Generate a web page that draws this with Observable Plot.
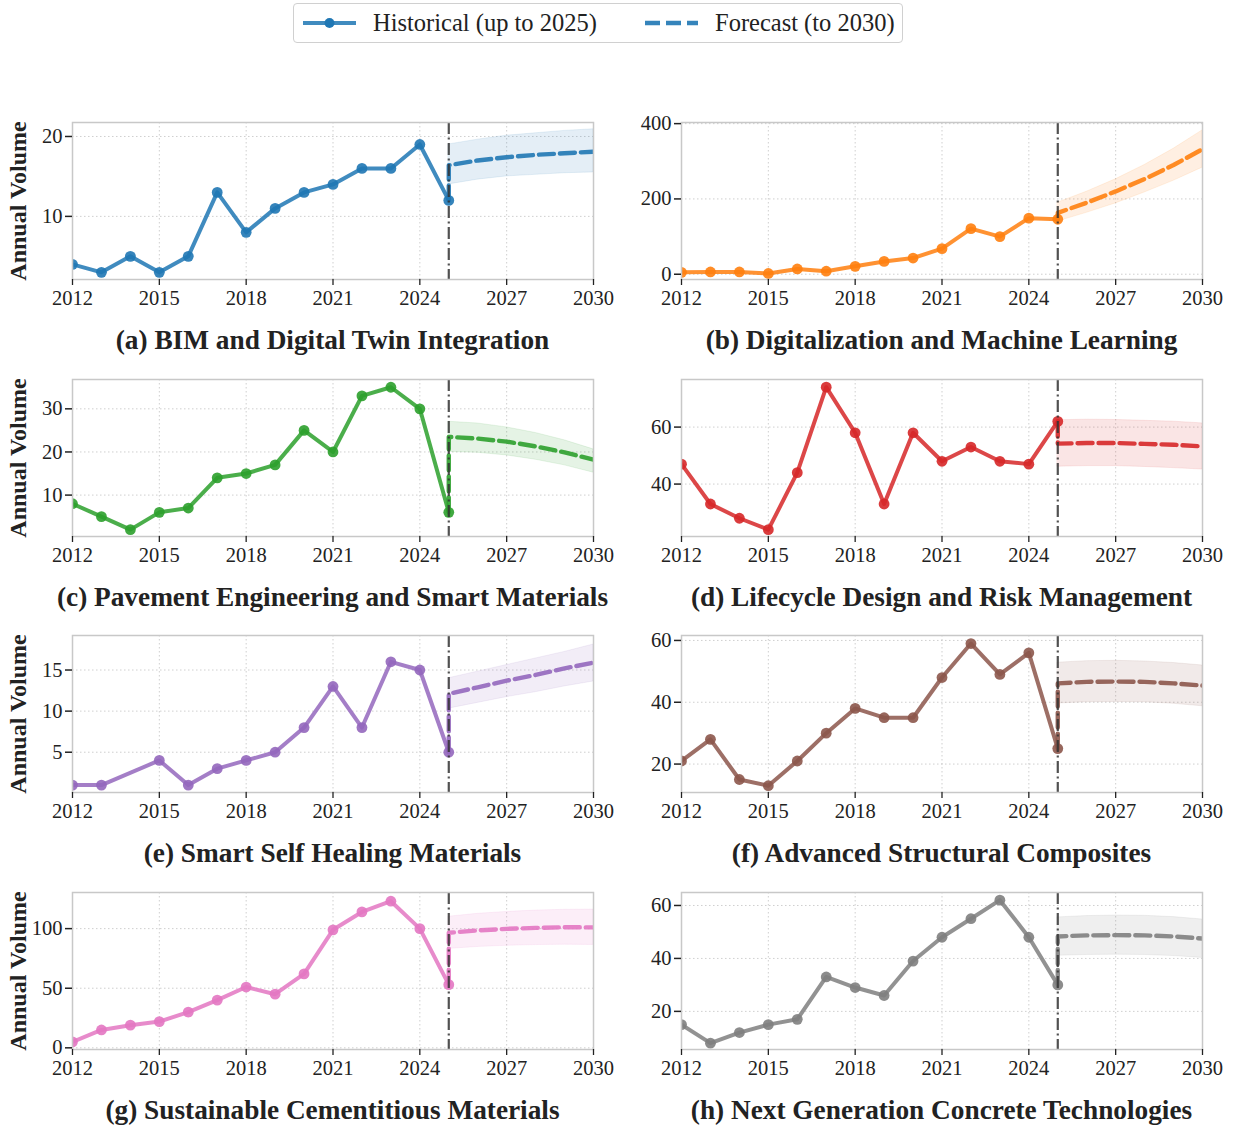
<!DOCTYPE html>
<html><head><meta charset="utf-8">
<script src="https://cdn.jsdelivr.net/npm/d3@7"></script>
<script src="https://cdn.jsdelivr.net/npm/@observablehq/plot@0.6"></script>
<style>
body{margin:0;background:#fff;font-family:"Liberation Serif","Times New Roman",serif;}
#root{position:relative;width:1233px;height:1131px;overflow:hidden;}
.panel{position:absolute;}
.title{position:absolute;text-align:center;font-weight:bold;font-size:27.3px;line-height:30px;color:#222;white-space:nowrap;}
.legend{position:absolute;left:293px;top:3px;width:608px;height:38px;border:1.5px solid #d0d0d0;border-radius:4px;box-sizing:content-box;}
.legend .item{position:absolute;top:0;height:38px;display:flex;align-items:center;font-size:24.5px;color:#222;}
.legend svg{margin-right:17px;}
</style>
</head><body>
<div id="root"></div>
<script>
// ---- data ----
const histYears = [2012,2013,2014,2015,2016,2017,2018,2019,2020,2021,2022,2023,2024,2025];
const forecastYears = [2025,2026,2027,2028,2029,2030];
const forecastStart = 2025;
const xTicks = [2012,2015,2018,2021,2024,2027,2030];

const titles = [
  "(a) BIM and Digital Twin Integration",
  "(b) Digitalization and Machine Learning",
  "(c) Pavement Engineering and Smart Materials",
  "(d) Lifecycle Design and Risk Management",
  "(e) Smart Self Healing Materials",
  "(f) Advanced Structural Composites",
  "(g) Sustainable Cementitious Materials",
  "(h) Next Generation Concrete Technologies"
];
const colors = ["#1f77b4","#ff7f0e","#2ca02c","#d62728","#9467bd","#8c564b","#e377c2","#7f7f7f"];

const histA = [4,3,5,3,5,13,8,11,13,14,16,16,19,12];
const fcA   = [16.4,17.0,17.4,17.7,17.9,18.1];
const loA   = [14.0,14.6,15.0,15.2,15.4,15.5];
const hiA   = [19.0,19.6,20.1,20.4,20.7,20.9];

const histB = [5,6,6,2,14,8,21,34,43,68,121,100,149,146];
const fcB   = [163,190,220,253,290,332];
const loB   = [140,163,188,217,248,283];
const hiB   = [190,219,252,290,333,382];

const histC = [8,5,2,6,7,14,15,17,25,20,33,35,30,6];
const fcC   = [23.5,23.1,22.4,21.3,19.9,18.2];
const loC   = [20.0,19.8,19.2,18.2,16.9,15.2];
const hiC   = [27.0,26.6,25.7,24.4,22.7,20.6];

const histD = [47,33,28,24,44,74,58,33,58,48,53,48,47,62];
const fcD   = [54.2,54.4,54.4,54.1,53.8,53.2];
const loD   = [46.1,46.3,46.3,46.0,45.6,45.1];
const hiD   = [62.4,62.6,62.5,62.2,61.9,61.3];

const histE = [1,1,null,4,1,3,4,5,8,13,8,16,15,5];
const fcE   = [12.1,12.9,13.7,14.4,15.2,15.9];
const loE   = [10.3,11.0,11.7,12.3,13.0,13.6];
const hiE   = [14.0,14.8,15.6,16.4,17.2,18.1];

const histF = [21,28,15,13,21,30,38,35,35,48,59,49,56,25];
const fcF   = [46.1,46.6,46.7,46.6,46.1,45.4];
const loF   = [39.6,40.0,40.1,40.0,39.5,38.7];
const hiF   = [52.8,53.3,53.4,53.2,52.7,51.9];

const histG = [5,15,19,22,30,40,51,45,62,99,114,123,100,53];
const fcG   = [96.5,98.5,99.8,100.6,101.2,101.0];
const loG   = [83.0,84.6,85.6,86.2,86.5,86.3];
const hiG   = [110.0,112.4,114.0,115.1,115.8,116.0];

const histH = [15,8,12,15,17,33,29,26,39,48,55,62,48,30];
const fcH   = [48.3,48.7,48.8,48.7,48.3,47.5];
const loH   = [41.0,41.3,41.4,41.3,40.9,40.2];
const hiH   = [55.5,56.0,56.2,56.1,55.6,54.7];

const yDomains = [[2.1,21.75],[-14,403],[0.4,36.8],[21.6,76.7],[0.1,19.2],[10.8,61.6],[-1.4,130.3],[5.6,64.9]];
const yTicks = [[10,20],[0,200,400],[10,20,30],[40,60],[5,10,15],[20,40,60],[0,50,100],[20,40,60]];

const hists = [histA,histB,histC,histD,histE,histF,histG,histH];
const fcs = [fcA,fcB,fcC,fcD,fcE,fcF,fcG,fcH];
const los = [loA,loB,loC,loD,loE,loF,loG,loH];
const his = [hiA,hiB,hiC,hiD,hiE,hiF,hiG,hiH];

// ---- layout ----
const root = document.getElementById("root");

// legend
const legend = document.createElement("div");
legend.className = "legend";
legend.innerHTML = `
<div class="item" style="left:9px">
  <svg width="53" height="12"><line x1="0" y1="6" x2="53" y2="6" stroke="${colors[0]}" stroke-opacity="0.85" stroke-width="4"/><circle cx="26.5" cy="6" r="5" fill="${colors[0]}"/></svg>
  <span>Historical (up to 2025)</span></div>
<div class="item" style="left:351px">
  <svg width="53" height="12"><line x1="0" y1="6" x2="53" y2="6" stroke="${colors[0]}" stroke-opacity="0.9" stroke-width="4.4" stroke-dasharray="15,6"/></svg>
  <span>Forecast (to 2030)</span></div>`;
root.appendChild(legend);

const fontFamily = '"Liberation Serif","Times New Roman",serif';

for (let i = 0; i < 8; i++) {
  const col = i % 2, row = Math.floor(i / 2);
  const areaTop = 122 + row * 256.6;
  const left = col ? 610 : 0;
  const mL = col ? 71 : 72, mR = col ? 25 : 17;
  const areaRight = col ? 1202 : 593;
  const width = areaRight - left + mR;
  const mT = 20, mB = 40, innerH = 157;
  const color = colors[i];

  const hist = histYears.map((x, k) => ({x, y: hists[i][k]})).filter(d => d.y != null);
  const last = hist[hist.length - 1];
  const fc = [last, ...forecastYears.map((x, k) => ({x, y: fcs[i][k]}))];
  const band = forecastYears.map((x, k) => ({x, lo: los[i][k], hi: his[i][k]}));

  const marks = [
    Plot.gridX({ticks: xTicks, stroke: "#bbb", strokeOpacity: 0.7, strokeDasharray: "1.5,2.5"}),
    Plot.gridY({ticks: yTicks[i], stroke: "#bbb", strokeOpacity: 0.7, strokeDasharray: "1.5,2.5"}),
    Plot.areaY(band, {x: "x", y1: "lo", y2: "hi", fill: color, fillOpacity: 0.12, stroke: color, strokeOpacity: 0.1, clip: true}),
    Plot.line(hist, {x: "x", y: "y", stroke: color, strokeWidth: 4, strokeOpacity: 0.85, clip: true}),
    Plot.dot(hist, {x: "x", y: "y", r: 5.4, fill: color, fillOpacity: 0.9, clip: true}),
    Plot.line(fc, {x: "x", y: "y", stroke: color, strokeWidth: 4.4, strokeOpacity: 0.9, strokeDasharray: "15,6", clip: true}),
    Plot.ruleX([forecastStart], {stroke: "#333", strokeOpacity: 0.85, strokeWidth: 2.2, strokeDasharray: "12,3.5,2,3.5"}),
    Plot.frame({stroke: "#c8c8c8", strokeWidth: 1.5}),
    Plot.axisX({ticks: xTicks, tickFormat: d => String(d), tickSize: 6, tickPadding: 5, label: null, fontSize: 20.5, color: "#222", strokeWidth: 1.3}),
    Plot.axisY({ticks: yTicks[i], tickSize: 7, tickPadding: 3, label: null, fontSize: 20.5, color: "#222", strokeWidth: 1.5})
  ];
  if (col === 0) {
    marks.push(Plot.text(["Annual Volume"], {frameAnchor: "left", rotate: -90, dx: -54, text: d => d,
      fontSize: 24, fontWeight: "bold", fill: "#222", textAnchor: "middle", lineAnchor: "middle"}));
  }

  const chart = Plot.plot({
    width, height: mT + innerH + mB,
    marginLeft: mL, marginRight: mR, marginTop: mT, marginBottom: mB,
    style: {fontFamily, fontSize: "20.5px", background: "transparent", overflow: "visible", color: "#222"},
    x: {domain: [2012, 2030], label: null},
    y: {domain: yDomains[i], label: null},
    marks
  });
  const wrap = document.createElement("div");
  wrap.className = "panel";
  wrap.style.left = left + "px";
  wrap.style.top = (areaTop - mT) + "px";
  wrap.appendChild(chart);
  root.appendChild(wrap);

  const t = document.createElement("div");
  t.className = "title";
  t.textContent = titles[i];
  t.style.left = (left + mL - 80) + "px";
  t.style.width = (areaRight - left - mL + 160) + "px";
  t.style.top = (areaTop + 218 - 15) + "px";
  root.appendChild(t);
}
</script>
</body></html>
